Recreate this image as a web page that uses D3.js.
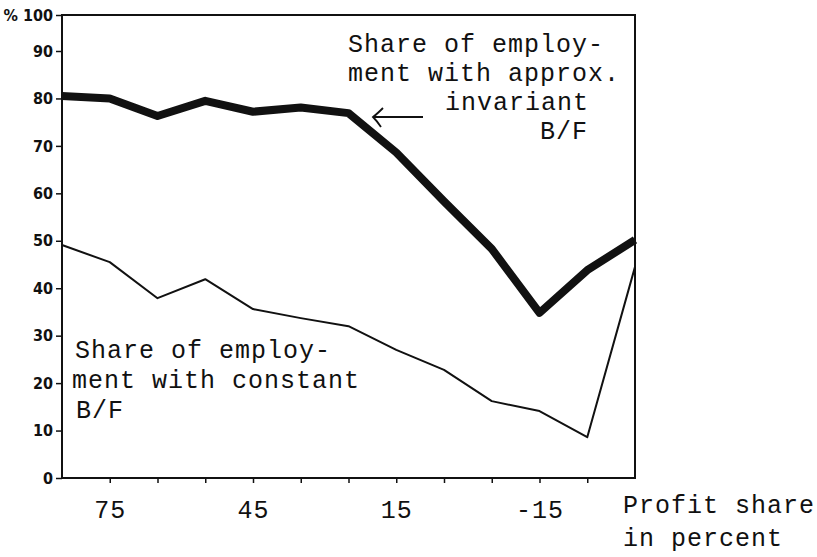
<!DOCTYPE html>
<html>
<head>
<meta charset="utf-8">
<script src="https://cdn.jsdelivr.net/npm/d3@7.9.0/dist/d3.min.js"></script>
<style>
  body { margin: 0; background: #fff; }
  svg { display: block; }
  .mono { font-family: "Liberation Mono", "DejaVu Sans Mono", monospace; font-size: 25px; letter-spacing: 1px; fill: #111; }
  .hand { font-family: "Liberation Sans Narrow", "DejaVu Sans Condensed", sans-serif; font-size: 16px; font-weight: bold; fill: #111; }
</style>
</head>
<body>
<svg id="chart" width="817" height="557"></svg>
<script>
// profit share in percent (x), share of employment in % (y)
const profitShare = [85, 75, 65, 55, 45, 35, 25, 15, 5, -5, -15, -25, -35];
const invariantShare = [80.5, 80.0, 76.3, 79.5, 77.2, 78.1, 76.9, 68.6, 58.3, 48.3, 34.8, 43.8, 50.2];
const constantShare = [49.1, 45.5, 37.9, 41.9, 35.6, 33.7, 32.0, 27.0, 22.8, 16.2, 14.1, 8.6, 44.5];

const xTicks = [75, 65, 55, 45, 35, 25, 15, 5, -5, -15, -25];
const xLabels = [75, 45, 15, -15];
const yTicks = [0, 10, 20, 30, 40, 50, 60, 70, 80, 90, 100];

const svg = d3.select('#chart');

const plotLeft = 62, plotRight = 635, plotTop = 15, plotBottom = 478;

const x = d3.scaleLinear().domain([85, -35]).range([plotLeft, plotRight]);
// hand-drawn axis: 0-90 evenly spaced, 90-100 squeezed
const y = d3.scaleLinear().domain([0, 90, 100]).range([plotBottom, 51, plotTop]);

// frame
svg.append('path')
  .attr('d', `M${plotLeft},${plotBottom} L${plotLeft},${plotTop} L${plotRight},${plotTop} L${plotRight},${plotBottom} Z`)
  .attr('fill', 'none')
  .attr('stroke', '#111')
  .attr('stroke-width', 2);

// x axis
const xAxis = svg.append('g')
  .attr('transform', `translate(0,${plotBottom})`)
  .call(d3.axisBottom(x)
    .tickValues(xTicks)
    .tickSize(5)
    .tickPadding(12)
    .tickFormat((d) => xLabels.includes(d) ? String(d) : ''));
xAxis.select('.domain').remove();
xAxis.selectAll('line').attr('stroke', '#111').attr('stroke-width', 1.5);
xAxis.selectAll('text')
  .attr('class', 'mono')
  .attr('fill', '#111')
  .attr('dy', '0.9em')
  .attr('font-size', null)
  .attr('font-family', null);

// y axis
const yAxis = svg.append('g')
  .attr('transform', `translate(${plotLeft},0)`)
  .call(d3.axisLeft(y)
    .tickValues(yTicks)
    .tickSize(6)
    .tickPadding(3)
    .tickFormat((d) => d === 100 ? '% 100' : String(d)));
yAxis.select('.domain').remove();
yAxis.selectAll('line').attr('stroke', '#111').attr('stroke-width', 1.5);
yAxis.selectAll('text')
  .attr('class', 'hand')
  .attr('fill', '#111')
  .attr('font-size', null)
  .attr('font-family', null);

const lineGen = d3.line()
  .x((d) => x(d[0]))
  .y((d) => y(d[1]));

svg.append('path')
  .datum(d3.zip(profitShare, constantShare))
  .attr('d', lineGen)
  .attr('fill', 'none')
  .attr('stroke', '#111')
  .attr('stroke-width', 2)
  .attr('stroke-linejoin', 'round');

svg.append('path')
  .datum(d3.zip(profitShare, invariantShare))
  .attr('d', lineGen)
  .attr('fill', 'none')
  .attr('stroke', '#111')
  .attr('stroke-width', 8)
  .attr('stroke-linejoin', 'round');

// annotations
function block(lines, x0, y0, dy) {
  const t = svg.append('text').attr('class', 'mono');
  lines.forEach(([txt, dx], i) => {
    t.append('tspan')
      .attr('x', x0 + dx)
      .attr('y', y0 + i * dy)
      .text(txt);
  });
}

block([['Share of employ-', 0], ['ment with approx.', 0], ['invariant', 97], ['B/F', 192]], 348, 52, 29);
block([['Share of employ-', 3], ['ment with constant', 0], ['B/F', 4]], 72, 358, 30);
block([['Profit share', 0], ['in percent', 0]], 623, 513, 33);

// arrow pointing at the thick line
svg.append('line')
  .attr('x1', 374).attr('y1', 117)
  .attr('x2', 423).attr('y2', 117)
  .attr('stroke', '#111').attr('stroke-width', 1.8);
svg.append('path')
  .attr('d', 'M383,108 Q377,114 373,117 Q377,121 381,127')
  .attr('fill', 'none')
  .attr('stroke', '#111')
  .attr('stroke-width', 1.8);
</script>
</body>
</html>
